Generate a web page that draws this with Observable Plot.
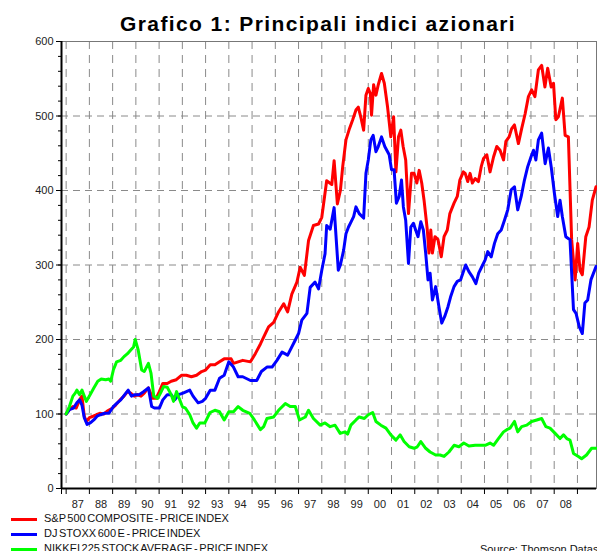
<!DOCTYPE html>
<html>
<head>
<meta charset="utf-8">
<script src="https://cdn.jsdelivr.net/npm/d3@7"></script>
<script src="https://cdn.jsdelivr.net/npm/@observablehq/plot@0.6"></script>
<style>
  html, body { margin: 0; padding: 0; background: #fff; }
  body { width: 597px; height: 551px; overflow: hidden; position: relative; font-family: "Liberation Sans", Arial, sans-serif; }
  #title { position: absolute; left: 120px; top: 13px; font-size: 21px; line-height: 21px; font-weight: bold; letter-spacing: 1.4px; white-space: nowrap; color: #000; }
  #chart { position: absolute; left: 0; top: 34px; }
  .leg { position: absolute; left: 0; width: 597px; height: 15px; }
  .leg .sw { position: absolute; left: 11px; width: 26px; height: 3px; }
  .leg .tx { position: absolute; left: 44px; font-size: 11px; line-height: 11px; letter-spacing: 0px; word-spacing: -1.5px; white-space: nowrap; color: #111; }
  #source { position: absolute; left: 480px; font-size: 11px; line-height: 11px; letter-spacing: 0px; white-space: nowrap; color: #111; }
</style>
</head>
<body>
<div id="title">Grafico 1: Principali indici azionari</div>
<div id="chart"></div>
<div id="legend"></div>
<div id="source">Source: Thomson Datastream</div>
<script>
// ---- Data (decimal year, index value, base Jan 1987 = 100) ----
const spDates = [1987.00,1987.14,1987.29,1987.43,1987.58,1987.68,1987.78,1987.87,1988.00,1988.16,1988.30,1988.45,1988.62,1988.77,1989.00,1989.13,1989.32,1989.49,1989.64,1989.78,1989.93,1990.07,1990.22,1990.36,1990.54,1990.72,1990.87,1991.01,1991.16,1991.35,1991.52,1991.74,1991.96,1992.17,1992.39,1992.61,1992.83,1993.00,1993.20,1993.40,1993.60,1993.80,1994.10,1994.20,1994.40,1994.60,1994.93,1995.14,1995.36,1995.57,1995.71,1995.93,1996.14,1996.36,1996.53,1996.71,1996.93,1997.07,1997.25,1997.43,1997.64,1997.86,1998.00,1998.21,1998.43,1998.53,1998.67,1998.80,1998.90,1999.04,1999.19,1999.33,1999.47,1999.57,1999.69,1999.80,1999.90,2000.00,2000.09,2000.14,2000.23,2000.33,2000.43,2000.57,2000.69,2000.83,2000.97,2001.09,2001.19,2001.30,2001.40,2001.50,2001.61,2001.73,2001.86,2001.97,2002.09,2002.19,2002.30,2002.40,2002.54,2002.61,2002.69,2002.76,2002.87,2003.00,2003.14,2003.26,2003.40,2003.51,2003.69,2003.83,2003.94,2004.09,2004.17,2004.28,2004.38,2004.48,2004.60,2004.74,2004.86,2004.96,2005.10,2005.24,2005.39,2005.53,2005.67,2005.82,2005.92,2006.06,2006.17,2006.29,2006.46,2006.60,2006.75,2006.89,2007.03,2007.17,2007.32,2007.46,2007.60,2007.72,2007.87,2007.97,2008.07,2008.18,2008.35,2008.47,2008.61,2008.75,2008.90,2009.01,2009.11,2009.21,2009.36,2009.50,2009.64,2009.80];
const spValues = [100,106,110,108,119,124,97,90,95,97,99,101,100,104,108,112,119,124,130,128,124,126,124,128,135,121,121,130,141,141,144,146,152,152,150,152,157,159,166,166,170,174,174,168,170,172,170,181,194,208,217,223,237,248,237,261,277,297,286,333,353,355,364,413,408,440,382,400,432,468,483,495,508,512,497,481,528,537,530,501,542,528,542,557,544,512,472,499,425,472,481,459,441,369,423,423,410,427,410,387,347,316,347,316,338,334,311,338,347,369,383,392,414,425,423,412,423,410,416,412,432,443,448,425,445,459,454,441,466,472,483,488,463,483,503,526,535,526,562,568,539,564,539,544,495,499,524,474,472,334,280,329,293,287,338,351,387,405];

const stoxxDates = [1987.00,1987.14,1987.32,1987.46,1987.58,1987.68,1987.78,1987.90,1988.04,1988.19,1988.33,1988.48,1988.65,1988.84,1989.03,1989.20,1989.35,1989.52,1989.67,1989.81,1989.96,1990.14,1990.33,1990.54,1990.68,1990.80,1991.01,1991.16,1991.35,1991.52,1991.67,1991.84,1992.03,1992.32,1992.46,1992.68,1992.86,1993.00,1993.20,1993.40,1993.60,1993.80,1994.00,1994.20,1994.40,1994.60,1994.93,1995.20,1995.40,1995.64,1995.86,1996.07,1996.29,1996.53,1996.79,1997.00,1997.14,1997.36,1997.50,1997.71,1997.86,1998.00,1998.14,1998.21,1998.36,1998.53,1998.71,1998.80,1998.94,1999.04,1999.15,1999.26,1999.37,1999.47,1999.61,1999.80,1999.90,2000.00,2000.11,2000.21,2000.33,2000.43,2000.57,2000.71,2000.90,2001.00,2001.11,2001.21,2001.33,2001.43,2001.51,2001.61,2001.73,2001.83,2001.94,2002.04,2002.14,2002.26,2002.37,2002.47,2002.57,2002.66,2002.76,2002.90,2003.04,2003.16,2003.29,2003.43,2003.54,2003.69,2003.83,2003.97,2004.09,2004.19,2004.33,2004.48,2004.63,2004.75,2004.89,2005.03,2005.14,2005.29,2005.43,2005.57,2005.72,2005.86,2006.00,2006.15,2006.29,2006.43,2006.58,2006.72,2006.86,2007.00,2007.11,2007.21,2007.32,2007.46,2007.61,2007.75,2007.87,2008.01,2008.15,2008.25,2008.35,2008.50,2008.68,2008.83,2008.94,2009.08,2009.21,2009.32,2009.44,2009.58,2009.80];
const stoxxValues = [100,106,108,115,119,112,95,86,88,92,97,99,101,101,110,115,119,126,132,124,126,126,130,135,110,108,108,119,126,126,119,126,128,132,124,115,117,121,132,132,148,152,170,163,150,150,145,145,157,163,163,172,183,179,195,208,226,235,270,277,268,293,315,353,348,377,293,300,320,342,351,358,365,378,369,363,423,441,468,474,452,459,472,459,448,428,428,383,392,414,378,360,302,351,356,347,338,358,347,316,280,289,253,271,244,222,231,244,257,271,278,280,291,300,291,284,275,289,298,307,318,311,329,342,347,360,374,401,405,374,392,414,432,445,454,441,468,477,436,457,432,396,365,387,365,338,334,240,235,217,208,249,253,280,298];

const nikkeiDates = [1987.00,1987.14,1987.29,1987.39,1987.46,1987.58,1987.68,1987.78,1987.87,1988.00,1988.19,1988.36,1988.51,1988.70,1988.84,1988.92,1989.03,1989.17,1989.35,1989.49,1989.64,1989.78,1989.90,1989.97,1990.10,1990.25,1990.36,1990.54,1990.65,1990.77,1990.94,1991.06,1991.20,1991.35,1991.52,1991.62,1991.75,1992.00,1992.13,1992.32,1992.46,1992.61,1992.75,1992.97,1993.19,1993.40,1993.60,1993.80,1994.00,1994.20,1994.40,1994.60,1994.90,1995.10,1995.36,1995.50,1995.64,1995.93,1996.14,1996.43,1996.64,1996.86,1997.04,1997.29,1997.43,1997.64,1997.93,1998.14,1998.36,1998.57,1998.79,1999.00,1999.11,1999.25,1999.47,1999.61,1999.83,2000.00,2000.19,2000.33,2000.54,2000.76,2000.97,2001.19,2001.37,2001.54,2001.76,2001.97,2002.11,2002.26,2002.47,2002.66,2002.90,2003.09,2003.26,2003.47,2003.69,2003.90,2004.11,2004.33,2004.60,2004.81,2005.03,2005.24,2005.39,2005.60,2005.82,2005.96,2006.10,2006.29,2006.43,2006.60,2006.82,2007.03,2007.25,2007.46,2007.64,2007.82,2008.04,2008.25,2008.40,2008.54,2008.68,2008.83,2009.04,2009.18,2009.39,2009.61,2009.80];
const nikkeiValues = [100,110,124,128,132,126,132,124,117,124,135,144,147,146,147,144,159,170,172,177,181,186,190,200,186,159,157,168,155,124,121,128,137,136,126,117,130,110,108,99,88,81,88,88,102,105,103,92,103,103,110,105,101,92,79,83,94,96,105,114,110,110,92,96,105,94,85,88,83,85,74,76,73,85,92,96,94,99,102,90,85,81,72,65,72,63,56,54,56,63,54,49,45,45,43,49,58,56,61,57,58,58,58,61,58,67,76,79,81,90,76,83,85,90,92,94,83,81,74,67,72,67,65,47,43,40,45,54,54];

const seriesNames = ["S&P 500 COMPOSITE - PRICE INDEX", "DJ STOXX 600 E - PRICE INDEX", "NIKKEI 225 STOCK AVERAGE - PRICE INDEX"];
const seriesColors = ["#ff0000", "#0000ff", "#00ff00"];

const yTicks = [0, 100, 200, 300, 400, 500, 600];
const yMinorTicks = d3.range(0, 601, 20);
const yearStarts = d3.range(1987, 2010);
const yearLabels = ["87","88","89","90","91","92","93","94","95","96","97","98","99","00","01","02","03","04","05","06","07","08"];

const xDomain = [1986.8, 2009.82];

const toRows = (xs, ys) => xs.map((x, i) => ({x, y: ys[i]}));
const sp = toRows(spDates, spValues);
const stoxx = toRows(stoxxDates, stoxxValues);
const nikkei = toRows(nikkeiDates, nikkeiValues);

const chart = Plot.plot({
  width: 597,
  height: 478,
  marginTop: 7,
  marginBottom: 24,
  marginLeft: 61,
  marginRight: 1,
  style: {fontFamily: "'Liberation Sans', Arial, sans-serif", fontSize: "11px", color: "#000", background: "#fff"},
  x: {domain: xDomain, axis: null},
  y: {domain: [0, 600], axis: null},
  marks: [
    Plot.ruleY([100, 200, 300, 400, 500], {stroke: "#8a8a8a", strokeWidth: 1, strokeDasharray: "7,5"}),
    Plot.ruleX(yearStarts.filter(d => d > xDomain[0] && d < xDomain[1]), {stroke: "#8a8a8a", strokeWidth: 1, strokeDasharray: "8,6"}),
    Plot.frame({stroke: "#777", strokeWidth: 1}),
    Plot.axisY(yMinorTicks, {anchor: "left", tickSize: 3, text: null, label: null, stroke: "#000"}),
    Plot.axisY(yTicks, {anchor: "left", tickSize: 5, tickPadding: 3, label: null, fontSize: 11, fill: "#222", stroke: "#000"}),
    Plot.axisX([xDomain[0], ...yearStarts], {anchor: "bottom", tickSize: 6, text: null, label: null, stroke: "#000"}),
    Plot.axisX(yearLabels.map((d, i) => 1987.5 + i), {anchor: "bottom", tickSize: 0, tickPadding: 12, label: null, fontSize: 11, fill: "#222", tickFormat: d => yearLabels[Math.floor(d) - 1987]}),
    Plot.line(sp, {x: "x", y: "y", stroke: seriesColors[0], strokeWidth: 3, strokeLinejoin: "round"}),
    Plot.line(stoxx, {x: "x", y: "y", stroke: seriesColors[1], strokeWidth: 3, strokeLinejoin: "round"}),
    Plot.line(nikkei, {x: "x", y: "y", stroke: seriesColors[2], strokeWidth: 3, strokeLinejoin: "round"}),
    Plot.ruleX([xDomain[0]], {stroke: "#000", strokeWidth: 2}),
    Plot.ruleY([0], {stroke: "#000", strokeWidth: 2})
  ]
});
document.getElementById("chart").appendChild(chart);

// Legend
const legend = document.getElementById("legend");
seriesNames.forEach((name, i) => {
  const row = document.createElement("div");
  row.className = "leg";
  row.style.top = (513 + 15 * i) + "px";
  const sw = document.createElement("div");
  sw.className = "sw";
  sw.style.top = "5px";
  sw.style.background = seriesColors[i];
  const tx = document.createElement("div");
  tx.className = "tx";
  tx.style.top = "0px";
  tx.textContent = name;
  row.appendChild(sw);
  row.appendChild(tx);
  legend.appendChild(row);
});
document.getElementById("source").style.top = "544px";
</script>
</body>
</html>
